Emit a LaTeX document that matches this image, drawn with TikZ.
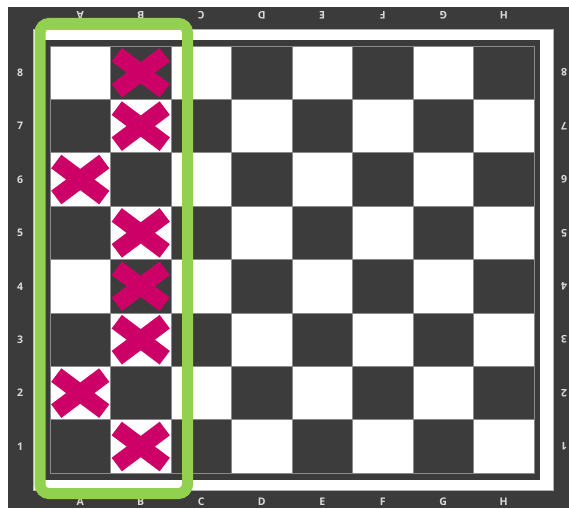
\documentclass[tikz,border=0pt]{standalone}
\usepackage{fontspec}
\setmainfont{Open Sans}
\definecolor{bgdark}{HTML}{3B3B3B}
\definecolor{sqdark}{HTML}{3C3C3C}
\definecolor{sqline}{HTML}{8A8A8A}
\definecolor{lbl}{HTML}{DADADA}
\definecolor{xmag}{HTML}{CC0066}
\definecolor{hlgreen}{HTML}{92D050}
\tikzset{
  lab/.style={text=lbl,font=\bfseries\fontsize{10.5}{10.5}\selectfont,inner sep=0pt},
  labflip/.style={lab,rotate=180},
  sqw/.style={fill=white,draw=sqline,line width=0.8},
  sqd/.style={fill=sqdark,draw=sqline,line width=0.8},
  xbar/.style={draw=xmag,line width=17,line cap=butt},
}
\begin{document}
\begin{tikzpicture}[x=1pt,y=-1pt]
\useasboundingbox (0,0) rectangle (569,508);
\fill[white] (0,0) rectangle (569,508);
\fill[bgdark] (8,7) rectangle (569,508);
% white frame
\fill[white,draw=gray!60,line width=0.8] (33,29) rectangle (553,490);
\fill[bgdark] (44,40) rectangle (540,480);
% squares
\foreach \c in {1,...,8}{
  \foreach \r in {1,...,8}{
    \pgfmathsetmacro{\xa}{50+(\c-1)*60.5}
    \pgfmathsetmacro{\ya}{46+(8-\r)*53.4}
    \pgfmathtruncatemacro{\sqpar}{mod(\c+\r,2)}
    \ifnum\sqpar=0
      \path[sqd] (\xa,\ya) rectangle ++(60.5,53.4);
    \else
      \path[sqw] (\xa,\ya) rectangle ++(60.5,53.4);
    \fi
  }
}
% labels
\foreach \l [count=\i] in {A,B,C,D,E,F,G,H}{
  \pgfmathsetmacro{\xc}{50+(\i-0.5)*60.5}
  \node[lab] (bot\l) at (\xc,502) {\l};
  \node[labflip] (top\l) at (\xc,15) {\l};
}
\foreach \r in {1,...,8}{
  \pgfmathsetmacro{\yc}{46+(8-\r+0.5)*53.4}
  \node[lab] (left\r) at (20,\yc) {\r};
  \node[labflip] (right\r) at (564,\yc) {\r};
}
% crosses
\foreach \c/\r in {2/8,2/7,1/6,2/5,2/4,2/3,1/2,2/1}{
  \pgfmathsetmacro{\xc}{50+(\c-0.5)*60.5}
  \pgfmathsetmacro{\yc}{46+(8-\r+0.5)*53.4}
  \draw[xbar] (\xc-24,\yc-18) -- (\xc+24,\yc+18);
  \draw[xbar] (\xc-24,\yc+18) -- (\xc+24,\yc-18);
}
% green highlight
\draw[hlgreen,line width=11,rounded corners=9] (40,23.5) rectangle (187.5,493.5);
\end{tikzpicture}
\end{document}
